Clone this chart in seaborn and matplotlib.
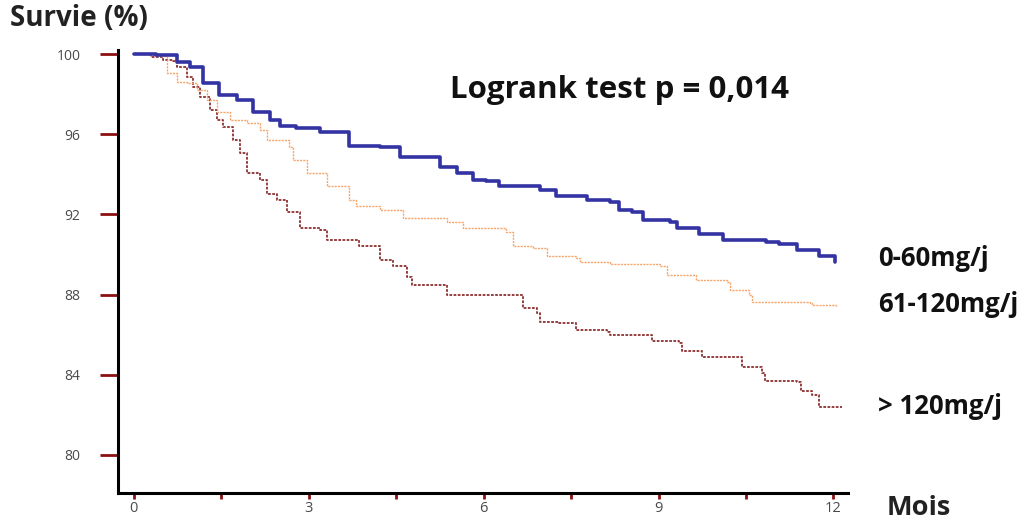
import numpy as np
import pandas as pd
import matplotlib
matplotlib.use("Agg")
import matplotlib.pyplot as plt
import seaborn as sns
from matplotlib.ticker import MultipleLocator

# Courbes de survie (mois, survie %)
mois_bas = [0, 0.39, 0.74, 0.96, 1.18, 1.47, 1.77, 2.04, 2.33, 2.50, 2.79, 3.19, 3.70,
            4.22, 4.56, 4.90, 5.25, 5.54, 5.81, 6.05, 6.27, 6.96, 7.25, 7.77, 8.16,
            8.33, 8.55, 8.73, 9.19, 9.31, 9.70, 10.10, 10.85, 11.07, 11.37, 11.76, 12.02]
surv_bas = [100, 99.95, 99.6, 99.35, 98.55, 97.96, 97.7, 97.1, 96.7, 96.4, 96.3, 96.1, 95.4,
            95.37, 94.87, 94.87, 94.37, 94.07, 93.7, 93.67, 93.4, 93.2, 92.9, 92.7, 92.6,
            92.2, 92.1, 91.7, 91.6, 91.3, 91.0, 90.7, 90.6, 90.5, 90.2, 89.9, 89.6]

mois_moy = [0, 0.45, 0.57, 0.74, 0.91, 1.08, 1.25, 1.42, 1.65, 1.94, 2.16, 2.28, 2.67,
            2.73, 2.97, 3.31, 3.70, 3.82, 4.22, 4.61, 5.37, 5.64, 6.39, 6.50, 6.84,
            7.08, 7.59, 7.65, 8.16, 9.02, 9.14, 9.65, 10.17, 10.22, 10.56, 10.61, 11.59,
            11.64, 12.05]
surv_moy = [100, 99.9, 99.05, 98.6, 98.55, 98.2, 97.7, 97.1, 96.7, 96.55, 96.2, 95.7, 95.35,
            94.7, 94.07, 93.4, 92.7, 92.4, 92.2, 91.8, 91.6, 91.3, 91.1, 90.4, 90.3,
            89.9, 89.84, 89.6, 89.5, 89.4, 89.0, 88.75, 88.65, 88.25, 88.0, 87.65, 87.6,
            87.5, 87.4]

mois_haut = [0, 0.3, 0.5, 0.67, 0.75, 0.91, 1.01, 1.13, 1.30, 1.42, 1.53, 1.70, 1.82,
             1.94, 2.16, 2.28, 2.45, 2.62, 2.85, 3.19, 3.31, 3.70, 3.87, 4.22, 4.44,
             4.68, 4.78, 5.25, 5.37, 6.50, 6.67, 6.91, 6.96, 7.30, 7.59, 8.11, 8.16,
             8.85, 8.88, 9.36, 9.41, 9.74, 9.75, 10.34, 10.44, 10.77, 10.82, 11.38,
             11.45, 11.64, 11.76, 12.15]
surv_haut = [100, 99.85, 99.7, 99.65, 99.35, 98.85, 98.35, 97.86, 97.2, 96.7, 96.36, 95.7, 95.07,
             94.07, 93.7, 93.0, 92.7, 92.1, 91.33, 91.23, 90.7, 90.7, 90.4, 89.74, 89.4,
             88.9, 88.5, 88.5, 88.0, 88.0, 87.35, 87.1, 86.65, 86.6, 86.25, 86.15, 86.0,
             85.96, 85.66, 85.6, 85.16, 85.1, 84.9, 84.9, 84.4, 84.1, 83.7, 83.66,
             83.17, 83.0, 82.4, 82.4]

groupes = ["0-60mg/j", "61-120mg/j", "> 120mg/j"]
couleurs = ["#3333a3", "#f7a46a", "#8e3030"]

sns.set_style("white")
plt.rcParams['font.family'] = ['Open Sans', 'DejaVu Sans']

fig = plt.figure(figsize=(10.27, 5.2), dpi=100)
ax = fig.add_axes([118 / 1027, 1 - 493 / 520, (848 - 118) / 1027, (493 - 50) / 520])

df_bas = pd.DataFrame({"mois": mois_bas, "survie": surv_bas})
df_moy = pd.DataFrame({"mois": mois_moy, "survie": surv_moy})
df_haut = pd.DataFrame({"mois": mois_haut, "survie": surv_haut})

sns.lineplot(data=df_haut, x="mois", y="survie", ax=ax, drawstyle="steps-post",
             color=couleurs[2], lw=1.3, linestyle=(0, (1.5, 0.8)))
sns.lineplot(data=df_moy, x="mois", y="survie", ax=ax, drawstyle="steps-post",
             color=couleurs[1], lw=1.0, linestyle=(0, (1.5, 0.8)))
sns.lineplot(data=df_bas, x="mois", y="survie", ax=ax, drawstyle="steps-post",
             color=couleurs[0], lw=2.6)

ax.set_xlim(-0.27, 12.25)
ax.set_ylim(78.1, 100.2)
ax.set_xlabel("")
ax.set_ylabel("")

sns.despine(ax=ax)
for s in ["left", "bottom"]:
    ax.spines[s].set_color("black")
    ax.spines[s].set_linewidth(2.2)

ax.set_yticks([80, 84, 88, 92, 96, 100])
ax.xaxis.set_major_locator(MultipleLocator(3))
ax.xaxis.set_minor_locator(MultipleLocator(1.5))
ax.tick_params(axis="y", direction="out", length=13, width=2, color="#8b1010",
               pad=14, labelsize=10, labelcolor="#4a4a4a", left=True)
ax.tick_params(axis="x", which="both", direction="out", length=4, width=2, color="#8b1010",
               pad=2, labelsize=10.5, labelcolor="#4a4a4a", bottom=True)

fig.text(10 / 1027, 1 - 19 / 520, "Survie (%)", fontsize=20, fontweight="bold",
         va="center", ha="left", color="#222222")
fig.text(450 / 1027, 1 - 90 / 520, "Logrank test p = 0,014", fontsize=22.5,
         fontweight="bold", va="center", ha="left", color="#111111")
fig.text(878 / 1027, 1 - 258 / 520, groupes[0], fontsize=18.5, fontweight="bold",
         va="center", ha="left", color="#111111")
fig.text(878 / 1027, 1 - 304 / 520, groupes[1], fontsize=18.5, fontweight="bold",
         va="center", ha="left", color="#111111")
fig.text(878 / 1027, 1 - 406 / 520, groupes[2], fontsize=18.5, fontweight="bold",
         va="center", ha="left", color="#111111")
fig.text(887 / 1027, 1 - 508 / 520, "Mois", fontsize=19.5, fontweight="bold",
         va="center", ha="left", color="#222222")

fig.savefig("out.png", dpi=100)
